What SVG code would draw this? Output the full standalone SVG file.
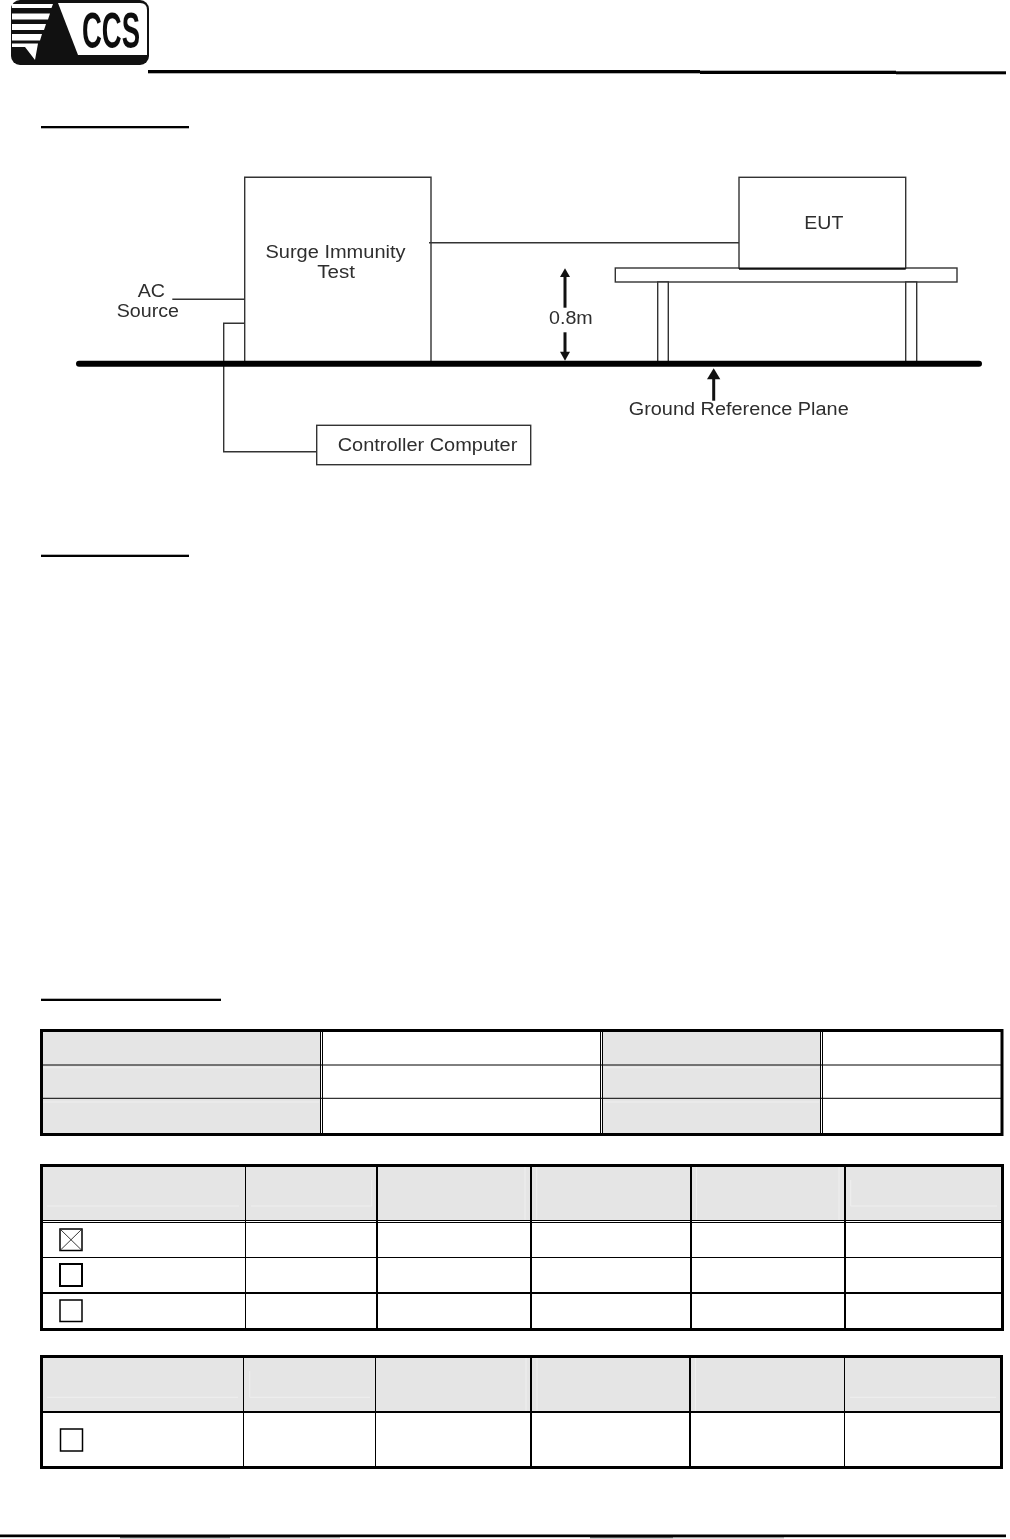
<svg xmlns="http://www.w3.org/2000/svg" width="1010" height="1539" viewBox="0 0 1010 1539">
<defs><filter id="soft" x="-5%" y="-20%" width="110%" height="140%"><feGaussianBlur stdDeviation="0.35"/></filter></defs>
<style>
.box{fill:#fff;stroke:#333;stroke-width:1.4}
.wire{fill:none;stroke:#333;stroke-width:1.4}
.arrow{fill:none;stroke:#111;stroke-width:3}
.head{fill:#111}
.lbl{font-family:"Liberation Sans",Arial,sans-serif;font-size:18px;fill:#2e2e2e;filter:url(#soft)}
.rule{fill:#000}
.grey{fill:#e5e5e5}
.outer{fill:none;stroke:#000;stroke-width:3}
.l1{stroke:#000;stroke-width:1;fill:none}
.l2{stroke:#000;stroke-width:2;fill:none}
.faint{stroke:#efefef;stroke-width:1;fill:none}
.chk{fill:#fff;stroke:#000;stroke-width:1.5}
</style>
<rect width="1010" height="1539" fill="#fff"/>

<g id="logo">
<rect x="11" y="0" width="138" height="65" rx="9" fill="#111"/>
<path d="M58 3H140Q147 3 147 10V55H78Z" fill="#fff"/>
<path d="M12 4H53L51.500 8H12ZM12 13.500H50L48 19.500H12ZM12 24H46L44 30H12ZM12 34H42L40 40.500H12ZM12 43.500H38L35 60L25 47H12Z" fill="#fff"/>
<text x="82" y="48" font-family="Liberation Sans,Arial,sans-serif" font-size="50" font-weight="700" fill="#111" textLength="58" lengthAdjust="spacingAndGlyphs" filter="url(#soft)">CCS</text>
</g>

<g id="page-rules">
<rect class="rule" x="148" y="70" width="552" height="3.300"/>
<rect class="rule" x="700" y="70.700" width="196" height="3.300"/>
<rect class="rule" x="896" y="71.300" width="110" height="3"/>
<rect class="rule" x="41" y="126" width="148" height="2.300"/>
<rect class="rule" x="41" y="554.700" width="148" height="2.300"/>
<rect class="rule" x="41" y="998.700" width="180" height="2.300"/>
<rect class="rule" x="0" y="1534.500" width="1006" height="2.700"/>
<rect x="120" y="1537" width="110" height="1.300" fill="#555"/>
<rect x="230" y="1537" width="110" height="1.300" fill="#999"/>
<rect x="590" y="1537" width="83" height="1.300" fill="#555"/>
<rect x="673" y="1537" width="111" height="1.300" fill="#999"/>
</g>

<g id="surge-immunity-test">
<path class="box" d="M244.700 361V177.300H431V361"/>
<text class="lbl" x="265.500" y="258" textLength="140" lengthAdjust="spacingAndGlyphs">Surge Immunity</text>
<text class="lbl" x="317.300" y="277.700" textLength="37.700" lengthAdjust="spacingAndGlyphs">Test</text>
</g>

<g id="ac-source">
<text class="lbl" x="137.700" y="296.700" textLength="27.300" lengthAdjust="spacingAndGlyphs">AC</text>
<text class="lbl" x="116.700" y="316.700" textLength="62.300" lengthAdjust="spacingAndGlyphs">Source</text>
</g>

<g id="controller-computer">
<rect class="box" x="316.700" y="425.300" width="214" height="39.400"/>
<text class="lbl" x="337.700" y="451" textLength="179.600" lengthAdjust="spacingAndGlyphs">Controller Computer</text>
</g>

<g id="table">
<rect class="box" x="615.300" y="268" width="341.700" height="14"/>
<path class="box" d="M657.700 361V282H668.300V361"/>
<path class="box" d="M905.700 361V282H916.700V361"/>
</g>

<g id="eut">
<rect class="box" x="739" y="177.300" width="166.700" height="91"/>
<line x1="739" y1="268.700" x2="905.700" y2="268.700" stroke="#111" stroke-width="2"/>
<text class="lbl" x="804.300" y="229" textLength="39" lengthAdjust="spacingAndGlyphs">EUT</text>
</g>

<g id="height-label">
<text class="lbl" x="549" y="324" textLength="43.700" lengthAdjust="spacingAndGlyphs">0.8m</text>
</g>

<g id="ground-label">
<text class="lbl" x="628.700" y="415" textLength="220" lengthAdjust="spacingAndGlyphs">Ground Reference Plane</text>
</g>

<g id="connectors">
<path class="wire" d="M429 242.700H739"/>
<path class="wire" d="M172.300 299.300H244.700"/>
<path class="wire" d="M244.700 323.300H223.700V451.700H316.700"/>
<path class="arrow" d="M565 276V307.700"/>
<path class="head" d="M565 268.300L570 277H560Z"/>
<path class="arrow" d="M565 332.300V352"/>
<path class="head" d="M565 360.700L570 351.700H560Z"/>
<path class="arrow" d="M713.700 378V400.700"/>
<path class="head" d="M713.700 368.300L720.300 379.300H707Z"/>
</g>

<g id="ground-plane">
<line x1="79" y1="363.700" x2="979" y2="363.700" stroke="#000" stroke-width="6" stroke-linecap="round"/>
</g>

<g id="table-1">
<rect class="grey" x="42" y="1031" width="279" height="103"/>
<rect class="grey" x="602" y="1031" width="219" height="103"/>
<path class="faint" d="M43 1067.700H319M43 1102H319M604 1067.700H819M604 1102H819"/>
<path class="l1" d="M41 1065H1002M41 1098.300H1002"/>
<path class="l1" d="M320.500 1030V1135M322.500 1030V1135M600.500 1030V1135M602.500 1030V1135M820.500 1030V1135M822.500 1030V1135"/>
<rect class="outer" x="41.500" y="1030.500" width="960.500" height="104"/>
</g>

<g id="table-2">
<rect class="grey" x="42" y="1166" width="960" height="54"/>
<path class="faint" d="M47 1206H239M251 1206H371.700V1180M525 1167V1220M536.700 1167V1220M696.500 1167V1220M839 1167V1220M850.700 1180V1206H997"/>
<path class="l1" d="M41 1220.500H1002M41 1222.500H1002M41 1257.500H1002"/>
<path class="l2" d="M41 1293H1002"/>
<path class="l1" d="M245.500 1165V1330"/>
<path class="l2" d="M377 1165V1330M531 1165V1330M691 1165V1330M845 1165V1330"/>
<rect class="outer" x="41.500" y="1165.500" width="961" height="164"/>
<rect class="chk" x="60" y="1229" width="22" height="21.500"/>
<path d="M60 1229L82 1250.500M82 1229L60 1250.500" stroke="#222" stroke-width="0.9" fill="none"/>
<rect class="chk" x="60" y="1264" width="22" height="22" style="stroke-width:2"/>
<rect class="chk" x="60" y="1300" width="22" height="21.500"/>
</g>

<g id="table-3">
<rect class="grey" x="42" y="1357" width="960" height="54"/>
<path class="faint" d="M47 1397.300H238M249.700 1371V1397.300H370M526 1358V1411M537 1358V1411M695.500 1358V1411M850 1397.300H996"/>
<path class="l2" d="M41 1412H1002"/>
<path class="l1" d="M243.500 1356V1468M375.500 1356V1468M844.500 1356V1468"/>
<path class="l2" d="M531 1356V1468M690 1356V1468"/>
<rect class="outer" x="41.500" y="1356.500" width="960" height="111"/>
<rect class="chk" x="60.500" y="1429" width="22" height="22"/>
</g>
</svg>
